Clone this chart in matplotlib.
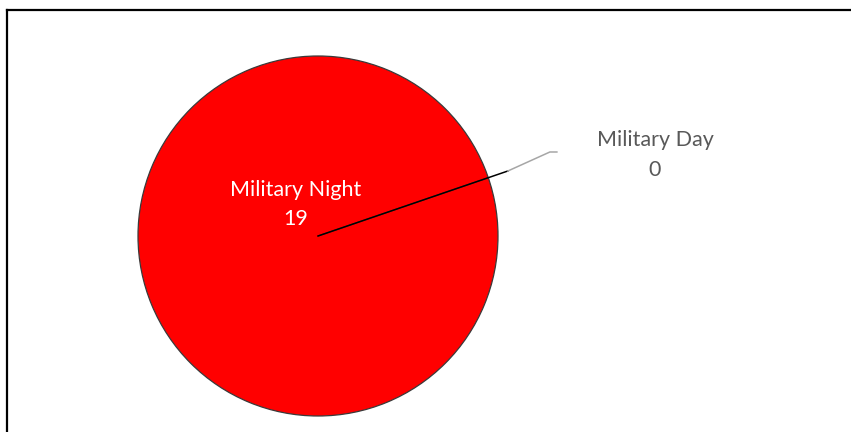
"""
Pie chart of military incidents by time of day.
"""

import numpy as np
import matplotlib.pyplot as plt
from matplotlib.lines import Line2D

categories = ["Military Night", "Military Day"]
counts = [19, 0]
colors = ["#FF0000", "#FFFFFF"]

WIDTH, HEIGHT = 851, 432
CENTER = (318, HEIGHT - 236)
RADIUS = 180
START_ANGLE = 18.9

plt.rcParams["font.family"] = ["Lato", "DejaVu Sans"]

fig = plt.figure(figsize=(WIDTH / 100, HEIGHT / 100), dpi=100)
ax = fig.add_axes([0, 0, 1, 1])

ax.pie(
    counts,
    colors=colors,
    startangle=START_ANGLE,
    counterclock=True,
    center=CENTER,
    radius=RADIUS,
    wedgeprops={"edgecolor": "#3a3a3a", "linewidth": 0.9},
)

ax.set_xlim(0, WIDTH)
ax.set_ylim(0, HEIGHT)
ax.set_aspect("equal")
ax.axis("off")

# zero-size slice: boundary at the end of the full circle
total = sum(counts)
day_angle = np.deg2rad(START_ANGLE + 360 * counts[0] / total)
ux, uy = np.cos(day_angle), np.sin(day_angle)

# radius line for the empty slice, running a little past the rim
tip = (CENTER[0] + 1.115 * RADIUS * ux, CENTER[1] + 1.115 * RADIUS * uy)
ax.plot([CENTER[0], tip[0]], [CENTER[1], tip[1]], color="black", linewidth=1.1)

# leader line to the outside label
elbow = (tip[0] + 42, tip[1] + 19)
ax.plot(
    [tip[0], elbow[0], elbow[0] + 7],
    [tip[1], elbow[1], elbow[1]],
    color="#A6A6A6",
    linewidth=1.1,
)

ax.text(
    296, HEIGHT - 204.5,
    f"{categories[0]}\n{counts[0]}",
    ha="center", va="center",
    color="white", fontsize=15.5, linespacing=1.55,
)

ax.text(
    655, HEIGHT - 155,
    f"{categories[1]}\n{counts[1]}",
    ha="center", va="center",
    color="#595959", fontsize=15.5, linespacing=1.6,
)

# frame lines along the top and left
fig.add_artist(Line2D([7 / WIDTH, 1], [1 - 10 / HEIGHT, 1 - 10 / HEIGHT],
                      color="black", linewidth=1.6))
fig.add_artist(Line2D([7 / WIDTH, 7 / WIDTH], [0, 1 - 10 / HEIGHT],
                      color="black", linewidth=1.6))

fig.savefig("out.png", dpi=100)
